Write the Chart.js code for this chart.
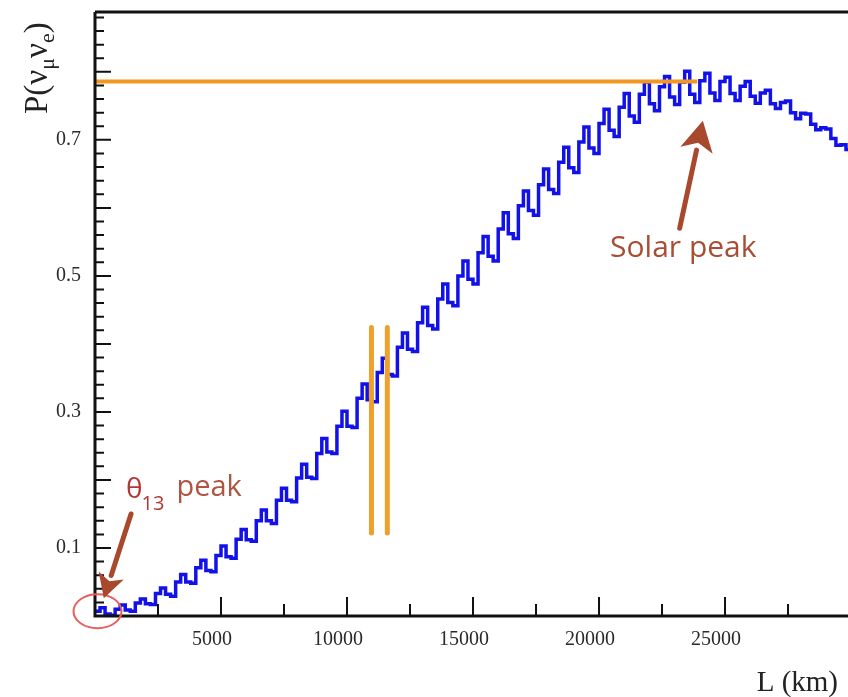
<!DOCTYPE html>
<html>
<head>
<meta charset="utf-8">
<script src="https://cdn.jsdelivr.net/npm/chart.js@4.4.0/dist/chart.umd.min.js"></script>
<style>
  html, body { margin: 0; padding: 0; background: #fff; }
  canvas { display: block; }
</style>
</head>
<body>
<canvas id="chart" width="848" height="697"></canvas>
<script>
// histogram bins, 200 km wide, starting at L = 0
const binWidth = 200;
const probValues = [
  0.007, 0.012, 0.003, 0.001, 0.010, 0.016, 0.009, 0.007, 0.019, 0.025,
  0.018, 0.017, 0.033, 0.041, 0.032, 0.029, 0.050, 0.061, 0.050, 0.048,
  0.071, 0.082, 0.067, 0.065, 0.089, 0.103, 0.087, 0.085, 0.113, 0.127,
  0.112, 0.110, 0.140, 0.156, 0.140, 0.136, 0.170, 0.188, 0.170, 0.168,
  0.203, 0.223, 0.204, 0.202, 0.239, 0.261, 0.241, 0.239, 0.279, 0.301,
  0.279, 0.277, 0.320, 0.341, 0.318, 0.315, 0.358, 0.379, 0.355, 0.353,
  0.395, 0.416, 0.392, 0.389, 0.431, 0.454, 0.427, 0.422, 0.466, 0.488,
  0.461, 0.456, 0.500, 0.522, 0.495, 0.488, 0.534, 0.558, 0.529, 0.522,
  0.569, 0.593, 0.562, 0.555, 0.603, 0.625, 0.596, 0.589, 0.634, 0.657,
  0.627, 0.621, 0.667, 0.689, 0.659, 0.652, 0.697, 0.719, 0.688, 0.680,
  0.724, 0.745, 0.714, 0.705, 0.748, 0.768, 0.735, 0.726, 0.767, 0.785,
  0.753, 0.743, 0.778, 0.793, 0.763, 0.752, 0.785, 0.801, 0.767, 0.755,
  0.787, 0.798, 0.769, 0.758, 0.786, 0.792, 0.768, 0.758, 0.779, 0.786,
  0.764, 0.754, 0.769, 0.773, 0.753, 0.746, 0.755, 0.757, 0.740, 0.731,
  0.739, 0.738, 0.723, 0.715, 0.718, 0.716, 0.702, 0.692, 0.693, 0.686
];

const xTickLabels = [5000, 10000, 15000, 20000, 25000];
const yTickLabels = [0.1, 0.3, 0.5, 0.7];

// orange guide lines
const solarLineX = [0, 23900];
const solarLineY = 0.786;
const markerLinesX = [10970, 11600];
const markerLinesY = [0.122, 0.424];

const orange = 'rgb(240,152,35)';
const brown = 'rgb(168,72,45)';

let curve = probValues.map((v, i) => ({ x: i * binWidth, y: v }));
curve.push({ x: probValues.length * binWidth, y: probValues[probValues.length - 1] });

let datasets = [
  {
    data: solarLineX.map(x => ({ x: x, y: solarLineY })),
    borderColor: orange, borderWidth: 4
  }
];
markerLinesX.forEach(x => {
  datasets.push({
    data: markerLinesY.map(y => ({ x: x, y: y })),
    borderColor: 'rgb(238,160,45)', borderWidth: 5, borderCapStyle: 'round'
  });
});
datasets.push({
  data: curve,
  stepped: true,
  borderColor: 'rgb(18,18,232)',
  borderWidth: 3.5
});
datasets.forEach(d => { d.pointRadius = 0; d.fill = false; });

function arrow(ctx, x1, y1, x2, y2, w, head, color) {
  let ang = Math.atan2(y2 - y1, x2 - x1);
  let bx = x2 - Math.cos(ang) * head, by = y2 - Math.sin(ang) * head;
  ctx.strokeStyle = color;
  ctx.fillStyle = color;
  ctx.lineWidth = w;
  ctx.lineCap = 'round';
  ctx.beginPath();
  ctx.moveTo(x1, y1);
  ctx.lineTo(bx, by);
  ctx.stroke();
  ctx.beginPath();
  ctx.moveTo(x2, y2);
  ctx.lineTo(bx + Math.sin(ang) * head * 0.55, by - Math.cos(ang) * head * 0.55);
  ctx.lineTo(bx + Math.cos(ang) * head * 0.25, by + Math.sin(ang) * head * 0.25);
  ctx.lineTo(bx - Math.sin(ang) * head * 0.55, by + Math.cos(ang) * head * 0.55);
  ctx.closePath();
  ctx.fill();
}

const decorations = {
  id: 'decorations',
  afterDraw(chart) {
    let ctx = chart.ctx, a = chart.chartArea;
    let xs = chart.scales.x, ys = chart.scales.y;
    ctx.save();

    // inward tick marks
    ctx.strokeStyle = '#111';
    ctx.lineWidth = 2;
    ctx.beginPath();
    for (let v = 2500; v < xs.max; v += 2500) {
      let px = xs.getPixelForValue(v);
      let len = v % 5000 === 0 ? 19 : 12;
      ctx.moveTo(px, a.bottom);
      ctx.lineTo(px, a.bottom - len);
    }
    for (let i = 1; i * 0.02 < ys.max; i++) {
      let py = ys.getPixelForValue(i * 0.02);
      let len = i % 5 === 0 ? 16 : 9;
      ctx.moveTo(a.left, py);
      ctx.lineTo(a.left + len, py);
    }
    ctx.stroke();

    // frame
    ctx.lineWidth = 3;
    ctx.beginPath();
    ctx.moveTo(a.left, a.top);
    ctx.lineTo(a.right, a.top);
    ctx.moveTo(a.left, a.top);
    ctx.lineTo(a.left, a.bottom);
    ctx.lineTo(a.right, a.bottom);
    ctx.stroke();

    // tick labels
    ctx.fillStyle = '#2a2a2a';
    ctx.font = '20px "Liberation Serif"';
    ctx.textBaseline = 'middle';
    ctx.textAlign = 'center';
    xTickLabels.forEach(v => {
      ctx.fillText(String(v), xs.getPixelForValue(v) - 9, a.bottom + 24);
    });
    ctx.textAlign = 'right';
    yTickLabels.forEach(v => {
      ctx.fillText(v.toFixed(1), a.left - 14, ys.getPixelForValue(v));
    });

    // red circle at the origin
    ctx.strokeStyle = 'rgb(232,95,95)';
    ctx.lineWidth = 2;
    ctx.beginPath();
    ctx.ellipse(xs.getPixelForValue(100), ys.getPixelForValue(0.007), 24, 17, 0, 0, Math.PI * 2);
    ctx.stroke();

    // arrows
    arrow(ctx, xs.getPixelForValue(1430), ys.getPixelForValue(0.15),
      xs.getPixelForValue(350), ys.getPixelForValue(0.026), 5, 24, brown);
    arrow(ctx, xs.getPixelForValue(23200), ys.getPixelForValue(0.57),
      xs.getPixelForValue(24120), ys.getPixelForValue(0.728), 5, 30, brown);

    // annotation text
    ctx.textBaseline = 'middle';
    ctx.textAlign = 'left';
    let tx = xs.getPixelForValue(1230), ty = ys.getPixelForValue(0.185);
    ctx.fillStyle = 'rgb(180,55,50)';
    ctx.font = '28px "Open Sans"';
    ctx.fillText('θ', tx, ty);
    let w = ctx.measureText('θ').width - 1;
    ctx.font = '20px "Open Sans"';
    ctx.fillText('13', tx + w, ty + 14);
    w += ctx.measureText('13').width + 12;
    ctx.fillStyle = 'rgb(175,85,65)';
    ctx.font = '29px "Open Sans"';
    ctx.fillText('peak', tx + w, ty - 2);

    ctx.fillStyle = 'rgb(168,78,52)';
    ctx.font = '30px "Open Sans"';
    ctx.fillText('Solar peak', xs.getPixelForValue(20440), ys.getPixelForValue(0.541));

    // axis titles
    ctx.fillStyle = '#222';
    ctx.font = '29px "Liberation Serif"';
    ctx.textAlign = 'right';
    ctx.fillText('L (km)', 838, 683);

    ctx.translate(47, 114);
    ctx.rotate(-Math.PI / 2);
    ctx.textAlign = 'left';
    ctx.textBaseline = 'alphabetic';
    let parts = [['P(', 33, 0], ['ν', 33, 0], ['μ', 22, 7], ['ν', 33, 0], ['e', 22, 7], [')', 33, 0]];
    let px = 0;
    parts.forEach(p => {
      ctx.font = p[1] + 'px "Liberation Serif"';
      ctx.fillText(p[0], px, p[2]);
      px += ctx.measureText(p[0]).width;
    });
    ctx.restore();
  }
};

new Chart(document.getElementById('chart'), {
  type: 'line',
  data: { datasets: datasets },
  options: {
    responsive: false,
    animation: false,
    devicePixelRatio: 1,
    layout: { padding: { top: 12, right: 0, left: 95, bottom: 81 } },
    plugins: { legend: { display: false }, tooltip: { enabled: false } },
    scales: {
      x: { type: 'linear', min: 0, max: 29880, display: false },
      y: { type: 'linear', min: 0, max: 0.888, display: false }
    }
  },
  plugins: [decorations]
});
</script>
</body>
</html>
